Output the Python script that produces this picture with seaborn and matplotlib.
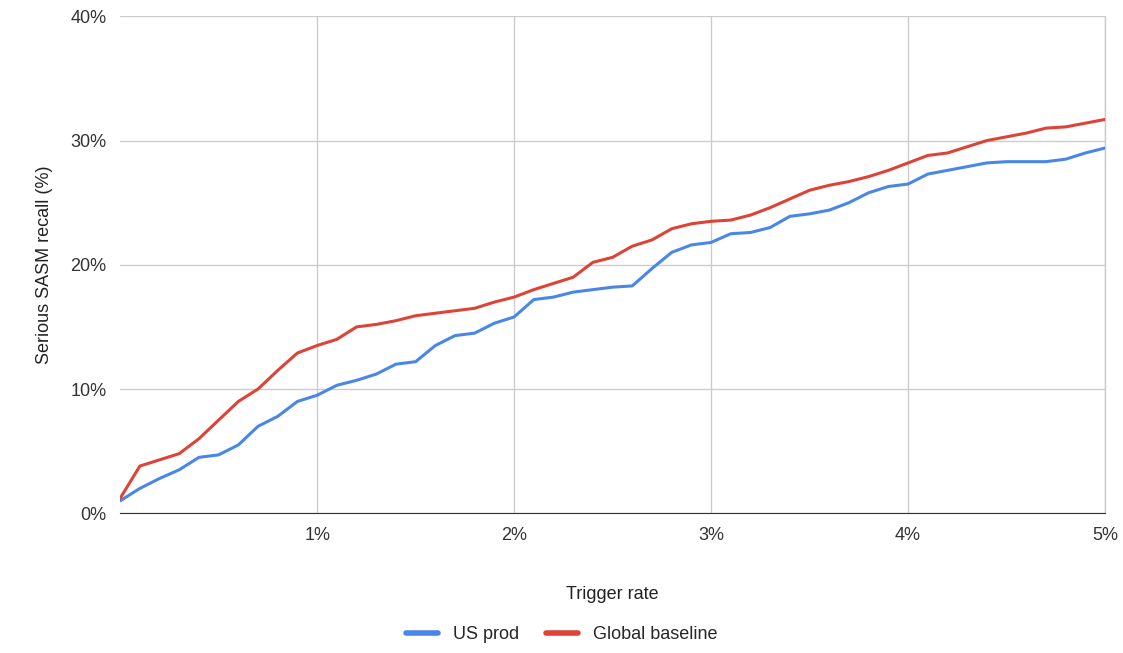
import numpy as np
import pandas as pd
import matplotlib
matplotlib.use("Agg")
import matplotlib.pyplot as plt
import seaborn as sns

trigger_rate = [round(i * 0.1, 1) for i in range(51)]
us_prod = [1.0, 2.0, 2.8, 3.5, 4.5, 4.7, 5.5, 7.0, 7.8, 9.0,
           9.5, 10.3, 10.7, 11.2, 12.0, 12.2, 13.5, 14.3, 14.5, 15.3,
           15.8, 17.2, 17.4, 17.8, 18.0, 18.2, 18.3, 19.7, 21.0, 21.6,
           21.8, 22.5, 22.6, 23.0, 23.9, 24.1, 24.4, 25.0, 25.8, 26.3,
           26.5, 27.3, 27.6, 27.9, 28.2, 28.3, 28.3, 28.3, 28.5, 29.0, 29.4]
global_baseline = [1.2, 3.8, 4.3, 4.8, 6.0, 7.5, 9.0, 10.0, 11.5, 12.9,
                   13.5, 14.0, 15.0, 15.2, 15.5, 15.9, 16.1, 16.3, 16.5, 17.0,
                   17.4, 18.0, 18.5, 19.0, 20.2, 20.6, 21.5, 22.0, 22.9, 23.3,
                   23.5, 23.6, 24.0, 24.6, 25.3, 26.0, 26.4, 26.7, 27.1, 27.6,
                   28.2, 28.8, 29.0, 29.5, 30.0, 30.3, 30.6, 31.0, 31.1, 31.4, 31.7]

df = pd.DataFrame({"Trigger rate": trigger_rate * 2,
                   "recall": us_prod + global_baseline,
                   "series": ["US prod"] * 51 + ["Global baseline"] * 51})

sns.set_style("white")
plt.rcParams['font.family'] = ['Liberation Sans', 'DejaVu Sans']
fig = plt.figure(figsize=(11.23, 6.53), dpi=100)
ax = fig.add_axes([0.107, 0.214, 0.877, 0.761])
sns.lineplot(data=df, x="Trigger rate", y="recall", hue="series",
             palette={"US prod": "#4a86e8", "Global baseline": "#db4437"},
             linewidth=2.2, ax=ax, legend=False, zorder=3)

ax.set_xlim(0, 5)
ax.set_ylim(0, 40)
ax.set_xticks([1, 2, 3, 4, 5])
ax.set_xticklabels(["1%", "2%", "3%", "4%", "5%"])
ax.set_yticks([0, 10, 20, 30, 40])
ax.set_yticklabels(["0%", "10%", "20%", "30%", "40%"])
ax.grid(True, color="#cccccc", linewidth=1)
ax.axvline(5, color="#cccccc", linewidth=1, clip_on=False, zorder=1)
for s in ["top", "right", "left"]:
    ax.spines[s].set_visible(False)
ax.spines["bottom"].set_color("#333333")
ax.tick_params(axis="both", length=0, labelsize=13, colors="#333333", pad=10)
ax.set_xlabel("Trigger rate", fontsize=13, color="#222222", labelpad=30)
ax.set_ylabel("Serious SASM recall (%)", fontsize=13, color="#222222", labelpad=12)

handles = [plt.Line2D([], [], color="#4a86e8", linewidth=4),
           plt.Line2D([], [], color="#db4437", linewidth=4)]
fig.legend(handles, ["US prod", "Global baseline"], loc="lower center",
           bbox_to_anchor=(0.5, -0.01), ncol=2, frameon=False, fontsize=13,
           handlelength=1.8, columnspacing=1.5)

fig.savefig("out.png", dpi=100)
